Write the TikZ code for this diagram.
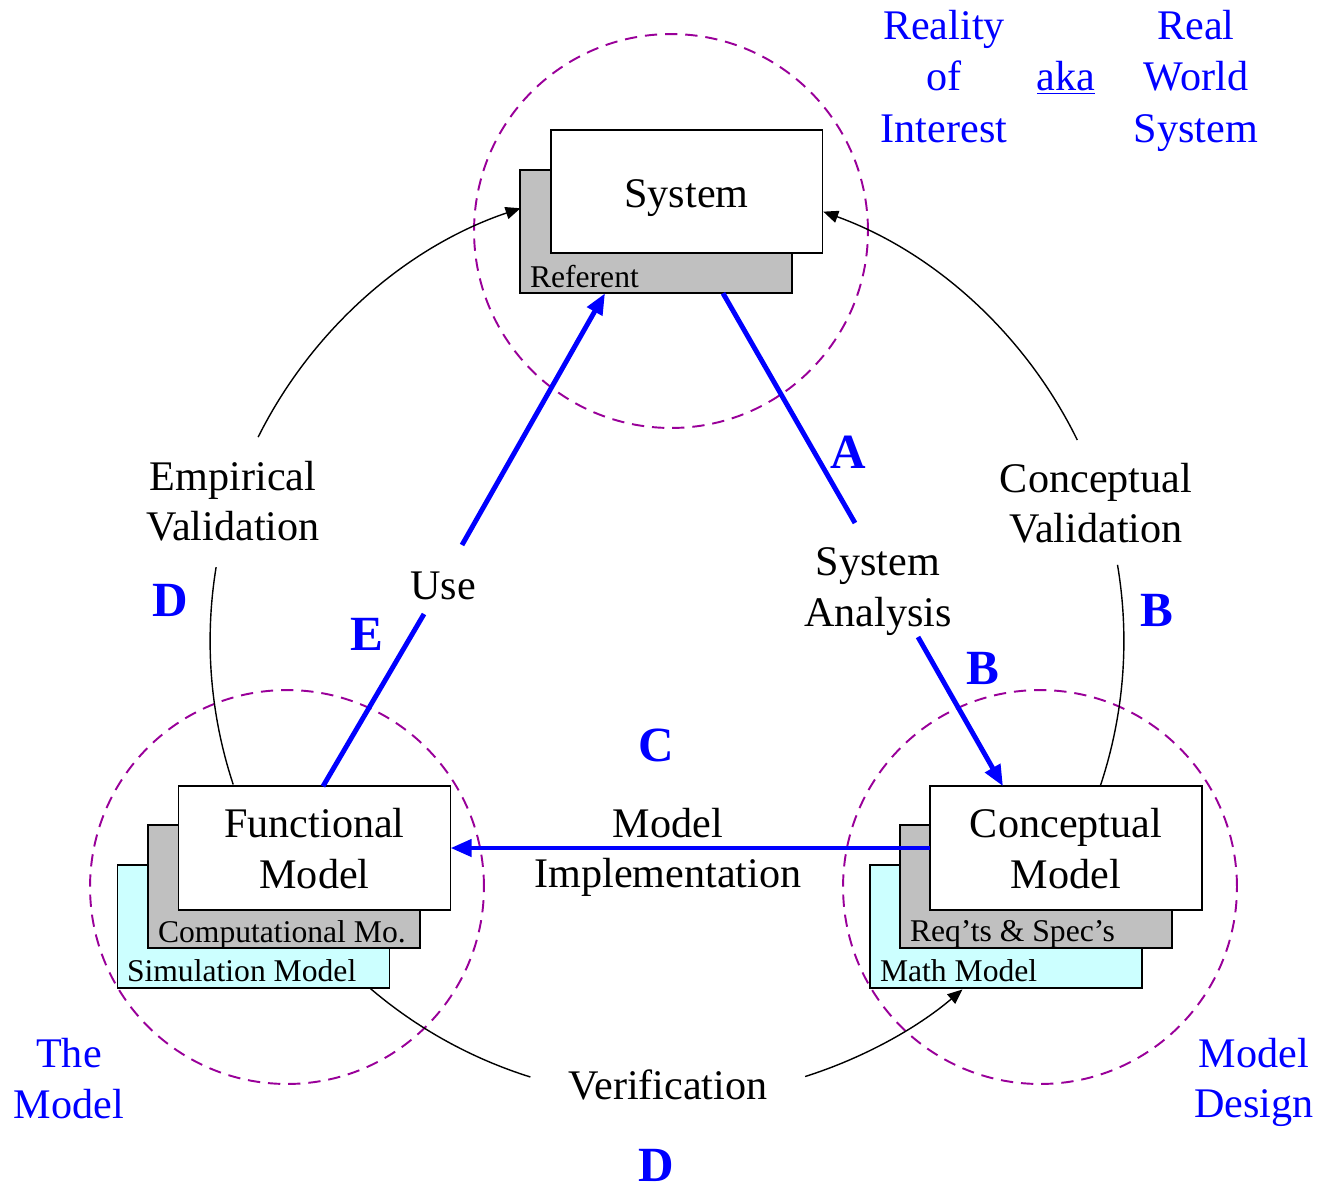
\documentclass[tikz,border=0pt]{standalone}
\usepackage{fontspec}
\setmainfont{Liberation Serif}
\usetikzlibrary{arrows.meta,calc}
\definecolor{dpurple}{RGB}{153,0,153}
\definecolor{boxgrey}{RGB}{192,192,192}
\definecolor{boxcyan}{RGB}{204,255,255}
\definecolor{pblue}{RGB}{0,0,255}
\begin{document}
\begin{tikzpicture}[x=0.02cm,y=-0.02cm,
  every node/.style={inner sep=0pt,outer sep=0pt},
  big/.style={font=\fontsize{24}{28.7}\selectfont, align=center,
    execute at begin node=\strut, execute at end node=\strut},
  small/.style={font=\fontsize{18}{20}\selectfont},
  letter/.style={font=\fontsize{28}{30}\selectfont\bfseries, text=pblue},
  bluetxt/.style={big, text=pblue},
  toptxt/.style={bluetxt, font=\fontsize{24}{29.3}\selectfont},
  frontbox/.style={draw, fill=white, line width=1.1pt, minimum width=5.44cm, minimum height=2.47cm, align=center, font=\fontsize{24}{28.7}\selectfont,
    execute at end node=\strut},
  greybox/.style={draw, fill=boxgrey, line width=1.1pt, minimum width=5.44cm, minimum height=2.47cm},
  cyanbox/.style={draw, fill=boxcyan, line width=1.1pt, minimum width=5.44cm, minimum height=2.47cm},
  region/.style={draw=dpurple, line width=1.1pt, dash pattern=on 7pt off 4.5pt},
  bluearrow/.style={draw=pblue, line width=2.8pt},
  bluetip/.style={-{Triangle[length=12pt,width=9.5pt]}},
  arcline/.style={line width=0.8pt},
  blacktip/.style={-{Triangle[length=8.5pt,width=7pt]}},
]
\useasboundingbox (0,0) rectangle (1318,1188);

% regions
\draw[region] (671,231) circle[radius=3.94cm];
\draw[region] (287,887) circle[radius=3.94cm];
\draw[region] (1040,887) circle[radius=3.94cm];

% boxes
\node[greybox] (referent) at (656,231.5) {};
\node[frontbox] (system) at (686.5,191.5) {\rule{0pt}{26.3pt}System};
\node[small, anchor=base west] (referenttxt) at (530,287) {Referent};

\node[cyanbox] (simulation) at (253.5,926.5) {};
\node[greybox] (computational) at (284,886.5) {};
\node[frontbox] (functional) at (314.5,848) {\rule{0pt}{25.5pt}Functional\\Model};
\node[small, anchor=base west] (comptxt) at (158,942) {Computational Mo.};
\node[small, anchor=base west] (simtxt) at (127,981) {Simulation Model};

\node[cyanbox] (math) at (1006,926.5) {};
\node[greybox] (reqs) at (1036,886.5) {};
\node[frontbox] (conceptual) at (1066,848) {\rule{0pt}{25.5pt}Conceptual\\Model};
\node[small, anchor=base west] (reqtxt) at (910,941) {Req’ts \& Spec’s};
\node[small, anchor=base west] (mathtxt) at (880,981) {Math Model};

% labels
\node[big] (emp) at (233,508.5) {Empirical\\Validation};
\node[letter] (dleft) at (170,600) {D};
\node[big] (use) at (443,589) {Use};
\node[letter] (eletter) at (367,634) {E};
\node[letter] (aletter) at (848,452) {A};
\node[big] (sysan) at (878,594.5) {System\\Analysis};
\node[letter] (bone) at (983,668) {B};
\node[big] (cv) at (1096,510.5) {Conceptual\\Validation};
\node[letter] (btwo) at (1157,610) {B};
\node[letter] (cletter) at (656,745) {C};
\node[big] (mi) at (668,855.5) {Model\\Implementation};
\node[big] (ver) at (668,1089) {Verification};
\node[letter] (dbottom) at (656,1165) {D};
\node[bluetxt] (themodel) at (69,1086) {The\\Model};
\node[bluetxt] (design) at (1254,1085.5) {Model\\Design};
\node[toptxt] (roi) at (944,84) {Reality\\of\\Interest};
\node[bluetxt] (aka) at (1066,80) {\underline{aka}};
\node[toptxt] (rws) at (1196,84) {Real\\World\\System};

% blue connectors
\coordinate (uone) at (424,614);
\coordinate (utwo) at (462,545);
\draw[bluearrow] ([xshift=0.17cm]functional.north) -- (uone);
\draw[bluearrow,bluetip] (utwo) -- ([xshift=-1.02cm]referent.south);

\coordinate (sone) at (855,523);
\coordinate (stwo) at (918,637);
\draw[bluearrow] ([xshift=1.34cm]referent.south) -- (sone);
\draw[bluearrow,bluetip] (stwo) -- ([xshift=-1.26cm]conceptual.north);

\draw[bluearrow,bluetip] (conceptual.west) -- (functional.east);

% black arcs (circle centre C, radius 457px)
\coordinate (C) at (667,641);
\coordinate (evone) at ($(C)+(-206.5:9.14cm)$);
\coordinate (evtwo) at ($(C)+(-189.3:9.14cm)$);
\coordinate (cvone) at ($(C)+(26.1:9.14cm)$);
\coordinate (cvtwo) at ($(C)+(9.6:9.14cm)$);
\coordinate (vone) at ($(C)+(-130.6:9.14cm)$);
\coordinate (vtwo) at ($(C)+(-72.4:9.14cm)$);
\draw[arcline,blacktip] (evone) arc[start angle=-206.5, end angle=-251.3, radius=9.14cm];
\draw[arcline] (evtwo) arc[start angle=-189.3, end angle=-161.7, radius=9.14cm];
\draw[arcline,blacktip] (cvone) arc[start angle=26.1, end angle=70, radius=9.14cm];
\draw[arcline] (cvtwo) arc[start angle=9.6, end angle=-18.4, radius=9.14cm];
\draw[arcline] (vone) arc[start angle=-130.6, end angle=-107.4, radius=9.14cm];
\draw[arcline,blacktip] (vtwo) arc[start angle=-72.4, end angle=-49.7, radius=9.14cm];
\end{tikzpicture}
\end{document}
